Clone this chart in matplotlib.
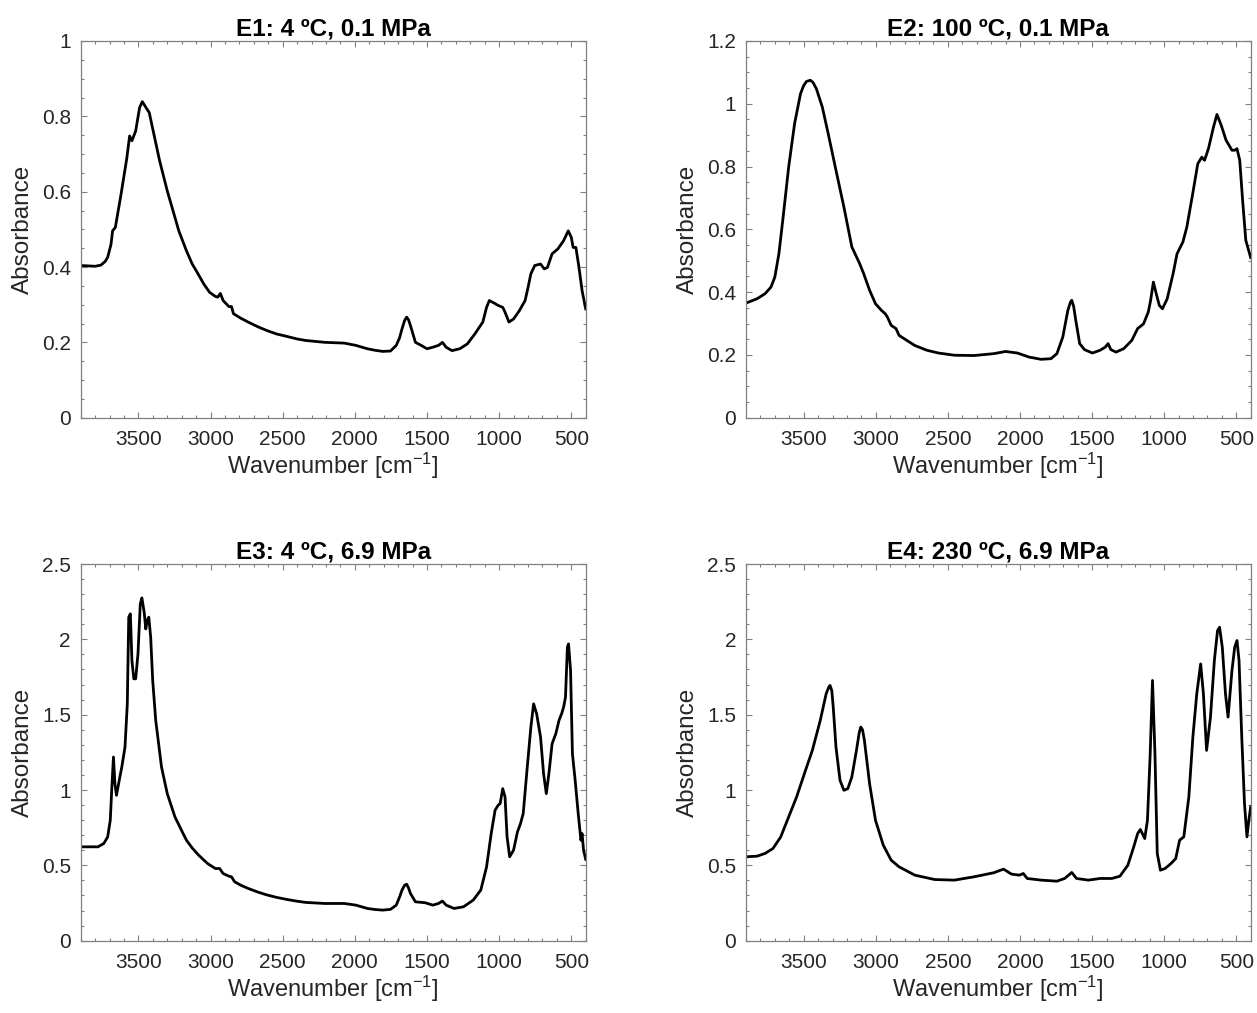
import matplotlib
matplotlib.use("Agg")
import matplotlib.pyplot as plt
from matplotlib.ticker import MultipleLocator

plt.rcParams['font.family'] = ['Liberation Sans', 'DejaVu Sans']
plt.rcParams['mathtext.fontset'] = 'custom'
plt.rcParams['mathtext.rm'] = 'Liberation Sans'
plt.rcParams['mathtext.it'] = 'Liberation Sans:italic'
plt.rcParams['mathtext.bf'] = 'Liberation Sans:bold'
plt.rcParams['axes.unicode_minus'] = False

# ---------------- data ----------------
titles = ["E1: 4 ºC, 0.1 MPa", "E2: 100 ºC, 0.1 MPa",
          "E3: 4 ºC, 6.9 MPa", "E4: 230 ºC, 6.9 MPa"]

e1_wn = [3900, 3800, 3760, 3730, 3713, 3690, 3679, 3660, 3620, 3580, 3561, 3545,
         3519, 3492, 3473, 3447, 3425, 3393, 3353, 3300, 3247, 3220, 3167, 3127,
         3087, 3047, 3007, 2967, 2950, 2932, 2913, 2873, 2855, 2841, 2790, 2740,
         2670, 2607, 2540, 2473, 2400, 2340, 2207, 2073, 1993, 1913, 1860, 1807,
         1753, 1713, 1690, 1673, 1655, 1641, 1628, 1615, 1580, 1540, 1500, 1460,
         1420, 1393, 1367, 1327, 1273, 1220, 1167, 1113, 1087, 1068, 1033, 1007,
         975, 959, 932, 900, 860, 820, 800, 780, 753, 713, 687, 665, 633, 593, 553,
         521, 500, 487, 468, 447, 425, 400]
e1_abs = [0.404, 0.402, 0.405, 0.415, 0.426, 0.460, 0.496, 0.505, 0.594, 0.690,
          0.748, 0.735, 0.761, 0.823, 0.839, 0.823, 0.810, 0.753, 0.682, 0.602,
          0.532, 0.496, 0.443, 0.408, 0.382, 0.355, 0.333, 0.322, 0.320, 0.330,
          0.311, 0.295, 0.295, 0.276, 0.264, 0.254, 0.241, 0.231, 0.222, 0.216,
          0.209, 0.205, 0.200, 0.198, 0.192, 0.183, 0.179, 0.176, 0.177, 0.192,
          0.212, 0.236, 0.258, 0.267, 0.260, 0.245, 0.200, 0.192, 0.183, 0.187,
          0.192, 0.200, 0.187, 0.178, 0.183, 0.196, 0.223, 0.254, 0.293, 0.311,
          0.304, 0.298, 0.293, 0.280, 0.254, 0.262, 0.284, 0.311, 0.345, 0.382,
          0.404, 0.408, 0.395, 0.399, 0.435, 0.448, 0.470, 0.496, 0.479, 0.452,
          0.452, 0.400, 0.337, 0.289]

e2_wn = [3900, 3823, 3768, 3727, 3700, 3672, 3645, 3604, 3563, 3522, 3500, 3481,
         3454, 3435, 3412, 3371, 3330, 3276, 3221, 3166, 3112, 3084, 3043, 3002,
         2961, 2934, 2920, 2893, 2860, 2838, 2784, 2729, 2647, 2565, 2455, 2319,
         2182, 2100, 2018, 1936, 1854, 1785, 1744, 1703, 1668, 1650, 1641, 1628,
         1613, 1586, 1553, 1498, 1444, 1408, 1389, 1370, 1334, 1280, 1225, 1184,
         1143, 1110, 1094, 1075, 1055, 1034, 1012, 979, 938, 911, 870, 843, 802,
         767, 739, 720, 693, 658, 634, 604, 571, 530, 511, 495, 476, 456, 434, 400]
e2_abs = [0.365, 0.379, 0.395, 0.416, 0.448, 0.522, 0.629, 0.799, 0.937, 1.032,
          1.058, 1.071, 1.075, 1.068, 1.048, 0.990, 0.905, 0.788, 0.671, 0.544,
          0.491, 0.459, 0.406, 0.363, 0.342, 0.331, 0.321, 0.294, 0.284, 0.262,
          0.246, 0.230, 0.215, 0.206, 0.199, 0.198, 0.204, 0.211, 0.206, 0.193,
          0.186, 0.188, 0.204, 0.257, 0.342, 0.368, 0.374, 0.355, 0.310, 0.236,
          0.217, 0.206, 0.215, 0.225, 0.236, 0.217, 0.209, 0.220, 0.246, 0.284,
          0.299, 0.337, 0.374, 0.432, 0.395, 0.358, 0.347, 0.379, 0.459, 0.522,
          0.560, 0.607, 0.714, 0.809, 0.830, 0.820, 0.857, 0.926, 0.966, 0.931,
          0.884, 0.852, 0.852, 0.857, 0.820, 0.692, 0.565, 0.510]

e3_wn = [3900, 3780, 3740, 3713, 3695, 3684, 3673, 3663, 3652, 3633, 3615, 3593,
         3577, 3567, 3556, 3545, 3532, 3519, 3503, 3487, 3476, 3460, 3449, 3439,
         3428, 3415, 3401, 3380, 3340, 3300, 3247, 3200, 3167, 3127, 3087, 3050,
         3020, 2967, 2937, 2913, 2873, 2855, 2833, 2790, 2740, 2670, 2607, 2540,
         2473, 2400, 2340, 2207, 2073, 1993, 1913, 1860, 1807, 1753, 1713, 1690,
         1673, 1655, 1641, 1628, 1615, 1580, 1513, 1460, 1420, 1393, 1367, 1313,
         1247, 1180, 1127, 1087, 1055, 1028, 1007, 993, 975, 959, 945, 927, 900,
         873, 852, 833, 807, 780, 761, 740, 713, 692, 673, 655, 633, 607, 585, 567,
         553, 540, 527, 519, 505, 492, 473, 452, 433, 425, 415, 400]
e3_abs = [0.623, 0.623, 0.645, 0.689, 0.800, 1.020, 1.219, 1.042, 0.965, 1.064,
          1.153, 1.285, 1.572, 2.147, 2.169, 1.860, 1.738, 1.738, 1.904, 2.235,
          2.275, 2.180, 2.069, 2.125, 2.147, 2.014, 1.727, 1.462, 1.153, 0.976,
          0.822, 0.730, 0.667, 0.615, 0.572, 0.538, 0.512, 0.479, 0.479, 0.446,
          0.428, 0.424, 0.391, 0.368, 0.347, 0.322, 0.303, 0.287, 0.274, 0.262,
          0.254, 0.247, 0.247, 0.236, 0.214, 0.207, 0.203, 0.208, 0.236, 0.290,
          0.336, 0.368, 0.375, 0.350, 0.314, 0.258, 0.252, 0.236, 0.247, 0.263,
          0.236, 0.214, 0.225, 0.269, 0.336, 0.490, 0.711, 0.866, 0.899, 0.910,
          1.009, 0.954, 0.689, 0.557, 0.601, 0.722, 0.777, 0.844, 1.131, 1.418,
          1.572, 1.506, 1.352, 1.109, 0.976, 1.109, 1.307, 1.374, 1.462, 1.506,
          1.550, 1.617, 1.948, 1.970, 1.793, 1.241, 1.064, 0.844, 0.667, 0.711,
          0.601, 0.540]

e4_wn = [3900, 3823, 3768, 3713, 3659, 3604, 3549, 3495, 3440, 3385, 3344, 3325,
         3317, 3305, 3295, 3276, 3248, 3221, 3194, 3166, 3134, 3115, 3104, 3092,
         3079, 3043, 3002, 2948, 2893, 2838, 2729, 2592, 2455, 2319, 2182, 2114,
         2059, 2004, 1977, 1950, 1854, 1744, 1690, 1641, 1608, 1526, 1444, 1362,
         1307, 1252, 1211, 1184, 1165, 1135, 1116, 1097, 1081, 1064, 1048, 1026,
         994, 953, 920, 893, 864, 829, 801, 774, 747, 728, 706, 679, 652, 630, 616,
         597, 575, 557, 530, 511, 495, 481, 462, 443, 426, 413, 400]
e4_abs = [0.557, 0.561, 0.579, 0.612, 0.689, 0.822, 0.954, 1.109, 1.263, 1.462,
          1.639, 1.685, 1.694, 1.660, 1.550, 1.285, 1.064, 0.998, 1.009, 1.087,
          1.263, 1.380, 1.418, 1.400, 1.330, 1.042, 0.799, 0.634, 0.534, 0.490,
          0.435, 0.406, 0.402, 0.424, 0.451, 0.475, 0.442, 0.435, 0.446, 0.413,
          0.402, 0.395, 0.413, 0.453, 0.413, 0.402, 0.413, 0.413, 0.428, 0.501,
          0.623, 0.711, 0.738, 0.678, 0.799, 1.241, 1.727, 1.241, 0.579, 0.468,
          0.479, 0.512, 0.545, 0.667, 0.689, 0.954, 1.352, 1.639, 1.837, 1.639,
          1.263, 1.484, 1.860, 2.058, 2.080, 1.948, 1.639, 1.484, 1.793, 1.948,
          1.992, 1.860, 1.352, 0.910, 0.689, 0.799, 0.888]

series = [(e1_wn, e1_abs), (e2_wn, e2_abs), (e3_wn, e3_abs), (e4_wn, e4_abs)]
y_max = [1.0, 1.2, 2.5, 2.5]
y_major = [0.2, 0.2, 0.5, 0.5]
y_minor = [0.05, 0.05, 0.1, 0.1]
x_ticks = [3500, 3000, 2500, 2000, 1500, 1000, 500]
x_tick_labels = ["3500", "3000", "2500", "2000", "1500", "1000", "500"]

# ---------------- layout ----------------
W, H = 1257, 1013
fig = plt.figure(figsize=(W / 100, H / 100), dpi=100)
boxes = [(80.7, 41, 585.7, 417.7), (746, 41, 1250.7, 417.7),
         (80.7, 564, 585.7, 940.7), (746, 564, 1250.7, 940.7)]

spine_c = '#808080'
text_c = '#262626'

for i, (x0, y0, x1, y1) in enumerate(boxes):
    ax = fig.add_axes([x0 / W, 1 - y1 / H, (x1 - x0) / W, (y1 - y0) / H])
    wn, ab = series[i]
    ax.plot(wn, ab, color='black', lw=2.0, solid_joinstyle='round')
    ax.set_xlim(3900, 400)
    ax.set_ylim(0, y_max[i])
    ax.set_xticks(x_ticks)
    ax.set_xticklabels(x_tick_labels)
    ax.xaxis.set_minor_locator(MultipleLocator(100))
    ax.yaxis.set_major_locator(MultipleLocator(y_major[i]))
    ax.yaxis.set_minor_locator(MultipleLocator(y_minor[i]))
    ax.yaxis.set_major_formatter(plt.FuncFormatter(lambda v, p: ('%g' % round(v, 3))))
    ax.tick_params(which='both', direction='in', top=True, right=True,
                   color=spine_c, labelcolor=text_c, labelsize=15, width=0.8)
    ax.tick_params(which='major', length=4)
    ax.tick_params(axis='x', which='major', pad=9)
    ax.tick_params(axis='y', which='major', pad=7)
    ax.tick_params(which='minor', length=2)
    for s in ax.spines.values():
        s.set_color(spine_c)
        s.set_linewidth(0.9)
    ax.set_title(titles[i], fontsize=17.5, fontweight='bold', color='black', pad=4)
    ax.set_xlabel('Wavenumber [cm$^{\\mathrm{-1}}$]', fontsize=17, color=text_c,
                  labelpad=1)
    ax.set_ylabel('Absorbance', fontsize=17.5, color=text_c, labelpad=6)

fig.savefig('out.png', dpi=100)
